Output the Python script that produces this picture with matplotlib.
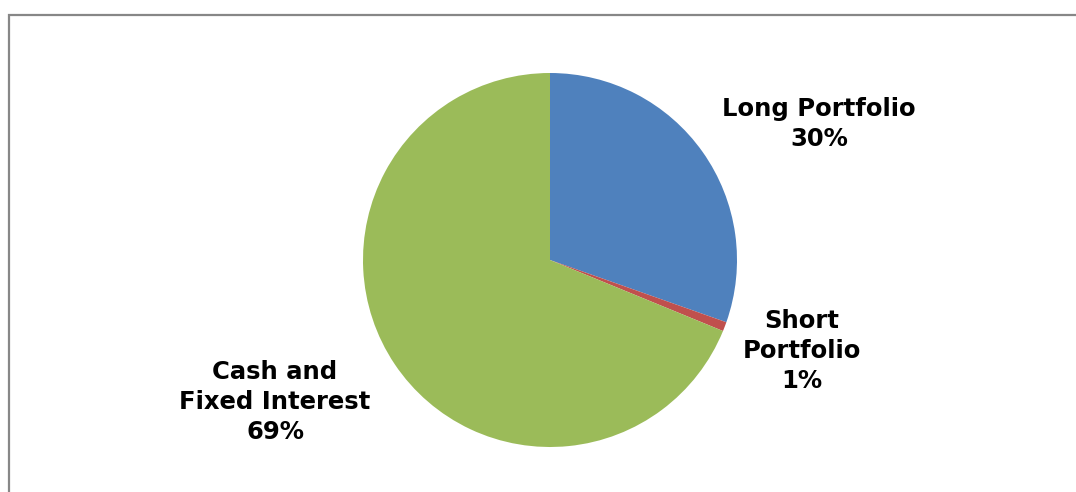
import matplotlib
matplotlib.use("Agg")
import matplotlib.pyplot as plt
from matplotlib.patches import Rectangle

# slice data
categories = ["Long Portfolio", "Short\nPortfolio", "Cash and\nFixed Interest"]
shares = [30.4, 0.8, 68.8]
colors = ["#4F81BD", "#C0504D", "#9BBB59"]

W, H = 1076, 492
fig = plt.figure(figsize=(W / 100, H / 100), dpi=100)
ax = fig.add_axes([0, 0, 1, 1])

# chart frame, cut off at right and bottom
ax.add_patch(Rectangle((9, -20), W + 40, H - 14.5 + 20, fill=False,
                       edgecolor="#878787", linewidth=1.6))

ax.pie(shares, colors=colors, startangle=90, counterclock=False,
       radius=187, center=(550, H - 260), frame=True,
       wedgeprops=dict(linewidth=0))
ax.set_xlim(0, W)
ax.set_ylim(0, H)
ax.set_aspect("equal")
ax.axis("off")

label_pos = [(819, H - 124), (802, H - 351), (275, H - 402)]
for name, val, (x, y) in zip(categories, shares, label_pos):
    ax.text(x, y, f"{name}\n{round(val):d}%", ha="center", va="center",
            fontsize=17.5, fontweight="bold", family="DejaVu Sans",
            linespacing=1.3, color="black")

fig.savefig("out.png", dpi=100)
